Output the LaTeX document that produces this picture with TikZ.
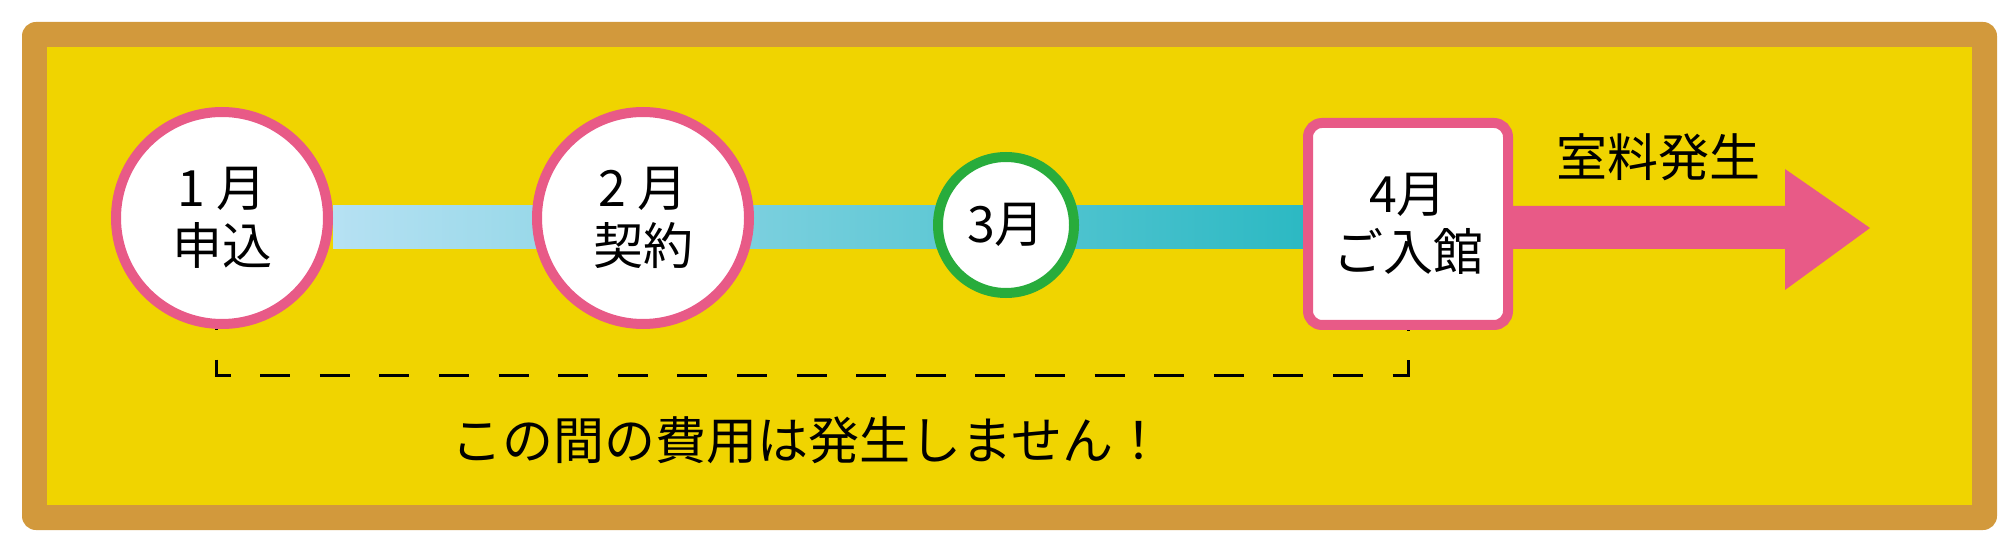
\documentclass[tikz,border=0pt]{standalone}
\usepackage{fontspec}
\setmainfont{Noto Sans CJK JP}
\pgfdeclarelayer{bg}
\pgfsetlayers{bg,main}
\definecolor{frameTan}{RGB}{210,153,60}
\definecolor{yel}{RGB}{240,212,0}
\definecolor{pk}{RGB}{232,90,135}
\definecolor{gr}{RGB}{40,172,60}
\definecolor{barL}{RGB}{182,225,243}
\definecolor{barR}{RGB}{44,185,195}
\begin{document}
\begin{tikzpicture}[x=1pt,y=-1pt,
  stage/.style={circle,draw=pk,fill=white,line width=10pt,minimum size=212pt,inner sep=0pt,align=center,font=\fontsize{50}{58}\selectfont},
  small/.style={circle,draw=gr,fill=white,line width=10pt,minimum size=136pt,inner sep=0pt,font=\fontsize{50}{58}\selectfont},
  entry/.style={rectangle,rounded corners=14pt,draw=pk,fill=white,line width=10pt,minimum width=200pt,minimum height=202pt,inner sep=0pt,align=center,font=\fontsize{50}{58}\selectfont},
  lbl/.style={inner sep=0pt,font=\fontsize{51}{60}\selectfont},
  gap/.style={draw=black,line width=3pt,dash pattern=on 30pt off 29.6pt,dash phase=29pt}
]
\useasboundingbox (0,0) rectangle (2008,553);
% nodes
\node[stage] (c1) at (222,218) {1 月\\申込};
\node[stage] (c2) at (643,218) {2 月\\契約};
\node[small] (c3) at (1006,225) {3月};
\node[entry] (c4) at (1408,224) {4月\\ご入館};
\coordinate (bt) at (0,206);
\coordinate (bb) at (0,249);
\coordinate (dl) at (0,375);
\coordinate (hb) at (1785,0);
\coordinate (tip) at (1870,228);
\begin{pgfonlayer}{bg}
  \fill[frameTan,rounded corners=14pt] (22,22) rectangle (1997,530);
  \fill[yel] (47,47) rectangle (1972,505);
  \shade[left color=barL,right color=barR] (c1.east |- bt) rectangle (c4.west |- bb);
\end{pgfonlayer}
% pink arrow
\fill[pk] (c4.east |- bt) -- (hb |- bt) -- (1785,169) -- (tip) -- (1785,290) -- (hb |- bb) -- (c4.east |- bb) -- cycle;
\node[lbl] (fee) at (1658,157) {室料発生};
% dashed bracket
\draw[gap] ([xshift=-6pt]c1.south) -- ([xshift=-6pt]c1.south |- dl) -- (c4.south |- dl) -- (c4.south);
\node[lbl] (note) at (808,440) {この間の費用は発生しません！};
\end{tikzpicture}
\end{document}
